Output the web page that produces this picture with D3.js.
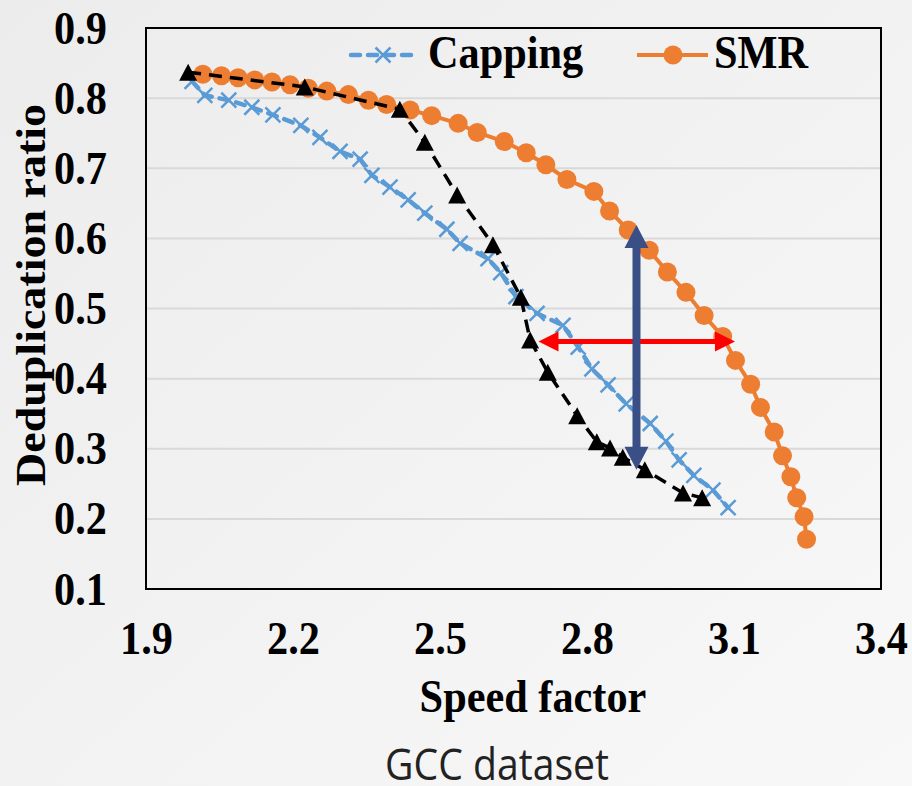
<!DOCTYPE html>
<html>
<head>
<meta charset="utf-8">
<script src="https://cdn.jsdelivr.net/npm/d3@7"></script>
<style>
  body { margin: 0; background: #f2f2f2; }
  text.serif { font-family: "Liberation Serif", "Times New Roman", serif; font-weight: bold; fill: #000; }
  text.caption { font-family: "Open Sans", "Liberation Sans", sans-serif; font-weight: normal; fill: #222; }
</style>
</head>
<body>
<div id="chart"></div>
<script>
// axis ticks
var xTicks = [1.9, 2.2, 2.5, 2.8, 3.1, 3.4];
var yTicks = [0.1, 0.2, 0.3, 0.4, 0.5, 0.6, 0.7, 0.8, 0.9];

// Capping series (blue, dashed, x markers)
var cappingX = [1.994, 2.020, 2.069, 2.116, 2.159, 2.216, 2.255, 2.296, 2.337, 2.361, 2.398, 2.435, 2.469, 2.514, 2.541,
                2.598, 2.624, 2.655, 2.698, 2.751, 2.782, 2.810, 2.843, 2.880, 2.929, 2.961, 2.988, 3.018, 3.057, 3.088];
var cappingY = [0.824, 0.804, 0.797, 0.787, 0.776, 0.761, 0.744, 0.724, 0.713, 0.690, 0.673, 0.655, 0.636, 0.613, 0.593,
                0.571, 0.551, 0.517, 0.493, 0.476, 0.445, 0.414, 0.391, 0.364, 0.336, 0.311, 0.284, 0.262, 0.241, 0.216];

// SMR series (orange, solid, circles)
var smrX = [2.016, 2.054, 2.088, 2.122, 2.157, 2.194, 2.231, 2.269, 2.313, 2.354, 2.391, 2.439, 2.483, 2.537, 2.576,
            2.631, 2.676, 2.716, 2.759, 2.814, 2.846, 2.884, 2.927, 2.964, 3.002, 3.039, 3.077, 3.103, 3.134, 3.154,
            3.182, 3.199, 3.216, 3.228, 3.243, 3.248];
var smrY = [0.834, 0.832, 0.829, 0.826, 0.823, 0.819, 0.814, 0.810, 0.805, 0.797, 0.791, 0.783, 0.775, 0.764, 0.751,
            0.738, 0.722, 0.705, 0.684, 0.667, 0.639, 0.612, 0.583, 0.552, 0.523, 0.490, 0.460, 0.426, 0.392, 0.359,
            0.324, 0.290, 0.260, 0.230, 0.203, 0.171];

// unnamed third series (black, dashed, triangles)
var triX = [1.986, 2.224, 2.418, 2.469, 2.535, 2.608, 2.665, 2.684, 2.720, 2.780, 2.820, 2.847, 2.873, 2.918, 2.996, 3.035];
var triY = [0.837, 0.816, 0.784, 0.737, 0.662, 0.591, 0.516, 0.455, 0.409, 0.347, 0.310, 0.301, 0.288, 0.270, 0.237, 0.230];

// annotation arrows
var vArrow = {x: 2.901, y1: 0.619, y2: 0.270};
var hArrow = {y: 0.453, x1: 2.701, x2: 3.102};

var svgWidth = 912;
var svgHeight = 786;
var plot = {left: 146, right: 881, top: 28, bottom: 589};
var sx = 0.92; // the text in the picture is a little narrower than it is tall

var svg = d3.select("#chart")
  .append("svg")
  .attr("width", svgWidth)
  .attr("height", svgHeight);

var defs = svg.append("defs");
var grad = defs.append("linearGradient")
  .attr("id", "bg")
  .attr("x1", "0").attr("y1", "0").attr("x2", "1").attr("y2", "1");
grad.append("stop").attr("offset", "0").attr("stop-color", "#ececec");
grad.append("stop").attr("offset", "1").attr("stop-color", "#f8f8f8");

svg.append("rect")
  .attr("width", svgWidth)
  .attr("height", svgHeight)
  .attr("fill", "url(#bg)");

var x = d3.scaleLinear().domain([1.9, 3.4]).range([plot.left, plot.right]);
var y = d3.scaleLinear().domain([0.1, 0.9]).range([plot.bottom, plot.top]);

// gridlines
svg.append("g")
  .selectAll("line")
  .data(yTicks.slice(1, -1))
  .enter()
  .append("line")
  .attr("x1", plot.left)
  .attr("x2", plot.right)
  .attr("y1", d => y(d))
  .attr("y2", d => y(d))
  .attr("stroke", "#d9d9d9")
  .attr("stroke-width", 2);

// axes: only the labels are shown, the frame is drawn separately
var leftAxis = d3.axisLeft(y).tickValues(yTicks).tickSize(0).tickPadding(0).tickFormat(d3.format(".1f"));
var bottomAxis = d3.axisBottom(x).tickValues(xTicks).tickSize(0).tickPadding(0).tickFormat(d3.format(".1f"));

var gy = svg.append("g")
  .attr("transform", `translate(${plot.left}, 0)`)
  .call(leftAxis);
gy.select(".domain").remove();
gy.attr("font-family", null).attr("font-size", null);
gy.selectAll("text")
  .attr("class", "serif")
  .attr("x", null).attr("dy", null)
  .attr("text-anchor", "end")
  .attr("font-size", 46)
  .attr("transform", `translate(-39, 15) scale(${sx},1)`);

var gx = svg.append("g")
  .attr("transform", `translate(0, ${plot.bottom})`)
  .call(bottomAxis);
gx.select(".domain").remove();
gx.attr("font-family", null).attr("font-size", null);
gx.selectAll("text")
  .attr("class", "serif")
  .attr("y", null).attr("dy", null)
  .attr("text-anchor", "middle")
  .attr("font-size", 46)
  .attr("transform", `translate(0, 65) scale(${sx},1)`);

// plot frame
svg.append("rect")
  .attr("x", plot.left)
  .attr("y", plot.top)
  .attr("width", plot.right - plot.left)
  .attr("height", plot.bottom - plot.top)
  .attr("fill", "none")
  .attr("stroke", "#000")
  .attr("stroke-width", 2);

var line = d3.line().x(d => x(d[0])).y(d => y(d[1]));

// Capping
var capping = d3.zip(cappingX, cappingY);
svg.append("path")
  .attr("d", line(capping))
  .attr("fill", "none")
  .attr("stroke", "#5b9bd5")
  .attr("stroke-width", 4.5)
  .attr("stroke-dasharray", "9,8")
  .attr("stroke-linecap", "round");

var xMark = "M-7.5,-7.5L7.5,7.5M-7.5,7.5L7.5,-7.5";
svg.append("g")
  .selectAll("path")
  .data(capping)
  .enter()
  .append("path")
  .attr("d", xMark)
  .attr("transform", d => `translate(${x(d[0])}, ${y(d[1])})`)
  .attr("stroke", "#5b9bd5")
  .attr("stroke-width", 2.5)
  .attr("fill", "none");

// SMR
var smr = d3.zip(smrX, smrY);
svg.append("path")
  .attr("d", line(smr))
  .attr("fill", "none")
  .attr("stroke", "#ed7d31")
  .attr("stroke-width", 4);

svg.append("g")
  .selectAll("circle")
  .data(smr)
  .enter()
  .append("circle")
  .attr("cx", d => x(d[0]))
  .attr("cy", d => y(d[1]))
  .attr("r", 9.5)
  .attr("fill", "#ed7d31");

// black triangle series
var tri = d3.zip(triX, triY);
svg.append("path")
  .attr("d", line(tri))
  .attr("fill", "none")
  .attr("stroke", "#000")
  .attr("stroke-width", 3.5)
  .attr("stroke-dasharray", "13,8");

var triMark = "M0,-8.5L9,8.5L-9,8.5Z";
svg.append("g")
  .selectAll("path")
  .data(tri)
  .enter()
  .append("path")
  .attr("d", triMark)
  .attr("transform", d => `translate(${x(d[0])}, ${y(d[1])})`)
  .attr("fill", "#000");

// red horizontal double arrow
var hy = y(hArrow.y), hx1 = x(hArrow.x1), hx2 = x(hArrow.x2);
svg.append("line")
  .attr("x1", hx1 + 15).attr("x2", hx2 - 15)
  .attr("y1", hy).attr("y2", hy)
  .attr("stroke", "#ff0000")
  .attr("stroke-width", 5);
svg.append("path")
  .attr("d", `M${hx1},${hy}L${hx1 + 20},${hy - 10}L${hx1 + 20},${hy + 10}Z M${hx2},${hy}L${hx2 - 20},${hy - 10}L${hx2 - 20},${hy + 10}Z`)
  .attr("fill", "#ff0000");

// blue vertical double arrow
var vx = x(vArrow.x), vy1 = y(vArrow.y1), vy2 = y(vArrow.y2);
svg.append("line")
  .attr("x1", vx).attr("x2", vx)
  .attr("y1", vy1 + 18).attr("y2", vy2 - 18)
  .attr("stroke", "#3a4f85")
  .attr("stroke-width", 8);
svg.append("path")
  .attr("d", `M${vx},${vy1}L${vx + 12},${vy1 + 23}L${vx - 12},${vy1 + 23}Z M${vx},${vy2}L${vx + 12},${vy2 - 23}L${vx - 12},${vy2 - 23}Z`)
  .attr("fill", "#3a4f85");

// legend
var lg = svg.append("g");
lg.append("line")
  .attr("x1", 351).attr("x2", 414).attr("y1", 55).attr("y2", 55)
  .attr("stroke", "#5b9bd5").attr("stroke-width", 4.5)
  .attr("stroke-dasharray", "9,8").attr("stroke-linecap", "round");
lg.append("path")
  .attr("d", xMark)
  .attr("transform", "translate(383, 55)")
  .attr("stroke", "#5b9bd5").attr("stroke-width", 2.5);
lg.append("text")
  .attr("class", "serif")
  .attr("transform", `translate(428, 68) scale(${sx},1)`)
  .attr("font-size", 46)
  .text("Capping");

lg.append("line")
  .attr("x1", 637).attr("x2", 708).attr("y1", 55).attr("y2", 55)
  .attr("stroke", "#ed7d31").attr("stroke-width", 4);
lg.append("circle")
  .attr("cx", 673).attr("cy", 55).attr("r", 9.5)
  .attr("fill", "#ed7d31");
lg.append("text")
  .attr("class", "serif")
  .attr("transform", `translate(714, 68) scale(${sx},1)`)
  .attr("font-size", 46)
  .text("SMR");

// axis titles
svg.append("text")
  .attr("class", "serif")
  .attr("transform", `translate(45, 295) scale(${sx},1) rotate(-90)`)
  .attr("text-anchor", "middle")
  .attr("font-size", 46)
  .text("Deduplication ratio");

svg.append("text")
  .attr("class", "serif")
  .attr("transform", `translate(533, 712) scale(${sx},1)`)
  .attr("text-anchor", "middle")
  .attr("font-size", 46)
  .text("Speed factor");

// caption
svg.append("text")
  .attr("class", "caption")
  .attr("x", 497)
  .attr("y", 780)
  .attr("text-anchor", "middle")
  .attr("font-size", 44)
  .attr("textLength", 224)
  .attr("lengthAdjust", "spacingAndGlyphs")
  .text("GCC dataset");
</script>
</body>
</html>
